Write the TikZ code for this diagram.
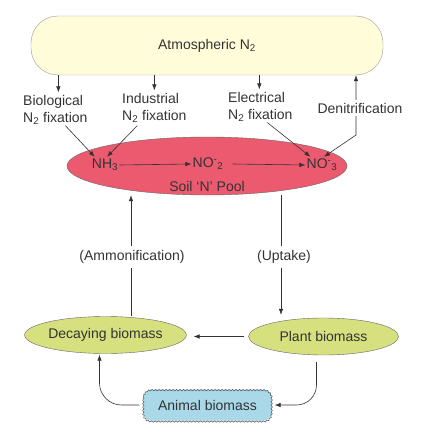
\documentclass[tikz,border=0pt]{standalone}
\usepackage{fontspec}
\setmainfont{Liberation Sans}
\usetikzlibrary{shapes.geometric, arrows.meta, decorations.pathmorphing}

\definecolor{atmyellow}{HTML}{FFFDD9}
\definecolor{poolred}{HTML}{EC5A70}
\definecolor{biogreen}{HTML}{D6E07E}
\definecolor{animalblue}{HTML}{A9D9E8}
\definecolor{darkline}{HTML}{333333}

\begin{document}
\begin{tikzpicture}[
    x=1pt, y=-1pt,
    >={Latex[length=6pt,width=4.5pt]},
    font=\fontsize{14}{16.5}\selectfont,
    text=darkline,
    atmbox/.style={rectangle, rounded corners=27pt, draw=gray!80, fill=atmyellow, minimum width=352pt, minimum height=59pt},
    pool/.style={ellipse, draw=black!60, fill=poolred, minimum width=280pt, minimum height=58pt},
    biomass/.style={ellipse, draw=black!60, fill=biogreen, minimum width=150pt, minimum height=37pt, inner sep=0pt},
    animalbox/.style={rectangle, rounded corners=8pt, fill=animalblue, minimum width=128pt, minimum height=31pt},
    animaledge/.style={draw=black!70, line width=0.5pt, decorate, decoration={snake, segment length=3.5pt, amplitude=0.7pt}},
    lbl/.style={align=left, inner sep=1pt},
    species/.style={inner sep=1pt},
    flow/.style={->, draw=darkline, line width=0.6pt}
]
    \useasboundingbox (0,0) rectangle (422,439);

    % 1. Atmosphere and soil pool
    \node[atmbox] (atm) at (207, 45.5) {Atmospheric N\textsubscript{2}};
    \node[pool] (pool) at (207, 166) {};
    \node[species] (nh) at (105, 165) {NH\textsubscript{3}};
    \node[species] (notwo) at (208, 164) {NO\textsuperscript{-}\textsubscript{2}};
    \node[species] (nothree) at (322, 165) {NO\textsuperscript{-}\textsubscript{3}};
    \node[species] (soil) at (207, 186) {Soil `N' Pool};

    % Arrows inside the pool
    \draw[flow] (nh.east) -- (notwo.west);
    \draw[flow] ([xshift=8pt]notwo.east) -- (nothree.west);

    % 2. Fixation labels
    \node[lbl, anchor=west] (bio) at (22, 110) {Biological\\N\textsubscript{2} fixation};
    \node[lbl, anchor=west] (ind) at (121, 108) {Industrial\\N\textsubscript{2} fixation};
    \node[lbl, anchor=west] (ele) at (227, 107) {Electrical\\N\textsubscript{2} fixation};

    % Arrows: atmosphere to labels
    \draw[flow] ([xshift=3pt]bio.north |- atm.south) -- ([xshift=3pt,yshift=2pt]bio.north);
    \draw[flow] (ind.north |- atm.south) -- ([yshift=2pt]ind.north);
    \draw[flow] ([xshift=-1pt]ele.north |- atm.south) -- ([xshift=-1pt,yshift=2pt]ele.north);

    % Arrows: labels to pool
    \draw[flow] ([xshift=10pt]bio.south) -- ([xshift=4pt,yshift=1pt]nh.north west);
    \draw[flow] ([xshift=-17pt,yshift=-2pt]ind.south) -- ([xshift=2pt,yshift=1pt]nh.north);
    \draw[flow] ([xshift=7pt]ele.south) -- ([xshift=5pt,yshift=1pt]nothree.north west);

    % Denitrification back to the atmosphere, label on top
    \coordinate (dcorner) at (356, 135);
    \draw[flow, <->] ([xshift=2pt,yshift=1pt]nothree.north) -- (dcorner) -- (dcorner |- atm.south);
    \node[lbl, fill=white, inner sep=3pt] (deni) at (360, 108) {Denitrification};

    % 3. Biomass
    \node[biomass] (decay) at (105.5, 335) {Decaying biomass};
    \node[biomass] (plant) at (323.5, 336.5) {Plant biomass};
    \node[animalbox] (animal) at (207.5, 405) {Animal biomass};
    \draw[animaledge] {[rounded corners=8pt] (animal.north west) rectangle (animal.south east)};

    % Ammonification and uptake
    \node[lbl] (amm) at (132, 257) {(Ammonification)};
    \node[lbl] (upt) at (284, 257) {(Uptake)};
    \draw[flow, -] ([xshift=-1pt]amm.south |- decay.north) -- ([xshift=-1pt,yshift=-3pt]amm.south);
    \draw[flow] ([xshift=-1pt,yshift=3pt]amm.north) -- ([xshift=-1pt]amm.north |- pool.south);
    \draw[flow, -] ([xshift=-3pt]upt.north |- pool.south) -- ([xshift=-3pt,yshift=3pt]upt.north);
    \draw[flow] ([xshift=-3pt,yshift=-3pt]upt.south) -- ([xshift=-3pt,yshift=3pt]upt.south |- plant.north);

    % Biomass cycle
    \draw[flow, shorten <=4pt, shorten >=7pt] (plant.west) -- (plant.west -| decay.east);
    \draw[flow, rounded corners=20pt, shorten <=7pt, shorten >=3pt] ([xshift=-7pt]plant.south) |- (animal.east);
    \draw[flow, rounded corners=22pt, shorten <=4pt, shorten >=1pt] (animal.west) -| ([xshift=-6pt]decay.south);

\end{tikzpicture}
\end{document}
